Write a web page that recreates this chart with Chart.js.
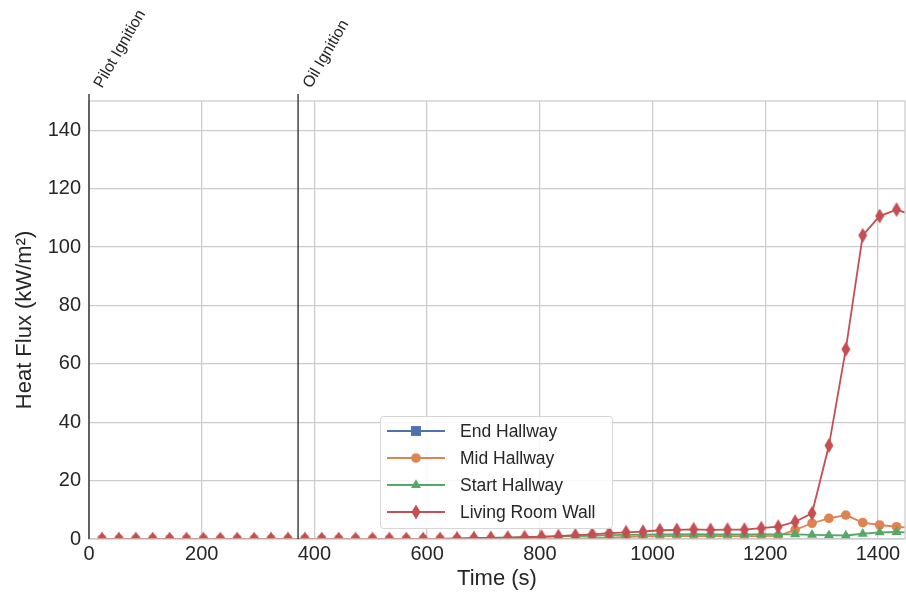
<!DOCTYPE html>
<html>
<head>
<meta charset="utf-8">
<script src="https://cdn.jsdelivr.net/npm/chart.js@4"></script>
<style>
    html, body { margin: 0; padding: 0; background: #ffffff; }
</style>
</head>
<body>
<canvas id="chartHeatFlux" width="906" height="594"></canvas>
<script>
// tempos (s) de cada leitura
const tempos = [23, 53, 83, 113, 143, 173, 203, 233, 263, 293, 323, 353, 383, 413, 443, 473, 503, 533, 563, 593,
    623, 653, 683, 713, 743, 773, 803, 833, 863, 893, 923, 953, 983, 1013, 1043, 1073, 1103, 1133, 1163, 1193,
    1223, 1253, 1283, 1313, 1343, 1373, 1403, 1433, 1448];

// End Hallway nao aparece no grafico (sem leitura)
const endHallway = [null, null, null, null, null, null, null, null, null, null, null, null, null, null, null, null, null, null, null, null,
    null, null, null, null, null, null, null, null, null, null, null, null, null, null, null, null, null, null, null, null,
    null, null, null, null, null, null, null, null, null];

const midHallway = [0, 0, 0, 0, 0, 0, 0, 0, 0, 0, 0, 0, 0, 0, 0, 0, 0, 0, 0, 0,
    0, 0, 0, 0, 0, 0, 0, 0, 0.1, 0.3, 0.5, 0.7, 0.9, 1.0, 1.1, 1.0, 1.1, 1.0, 1.0, 1.0,
    1.1, 3.1, 5.4, 7.1, 8.2, 5.6, 4.8, 4.2, 4.0];

const startHallway = [0, 0, 0, 0, 0, 0, 0, 0, 0, 0, 0, 0, 0, 0, 0, 0, 0, 0, 0, 0,
    0, 0.1, 0.3, 0.4, 0.5, 0.6, 0.7, 0.9, 1.0, 1.1, 1.3, 1.4, 1.5, 1.6, 1.6, 1.7, 1.6, 1.6, 1.6, 1.6,
    1.6, 1.6, 1.4, 1.3, 1.2, 1.8, 2.3, 2.4, 2.3];

const livingRoomWall = [0, 0, 0, 0, 0, 0, 0, 0, 0, 0, 0, 0, 0, 0, 0, 0, 0, 0, 0, 0,
    0, 0.2, 0.3, 0.4, 0.5, 0.6, 0.8, 1.0, 1.3, 1.6, 2.0, 2.3, 2.5, 3.0, 3.1, 3.3, 3.1, 3.2, 3.2, 3.7,
    4.2, 5.9, 8.8, 32, 65, 104, 110.6, 112.8, 111.8];

const nomesSeries = ['End Hallway', 'Mid Hallway', 'Start Hallway', 'Living Room Wall'];

const ticksX = [0, 200, 400, 600, 800, 1000, 1200, 1400];
const ticksY = [0, 20, 40, 60, 80, 100, 120, 140];

const eventosTempo = [0, 371];
const eventosNome = ['Pilot Ignition', 'Oil Ignition'];

const fonte = '"Liberation Sans", Arial, sans-serif';
const corTexto = '#262626';

// losango fino do matplotlib ('d')
function criarLosango(cor) {
    const c = document.createElement('canvas');
    c.width = 10;
    c.height = 16;
    const g = c.getContext('2d');
    g.fillStyle = cor;
    g.beginPath();
    g.moveTo(5, 0.5);
    g.lineTo(9.5, 8);
    g.lineTo(5, 15.5);
    g.lineTo(0.5, 8);
    g.closePath();
    g.fill();
    return c;
}

function montarPontos(valores) {
    return tempos.map((t, i) => ({ x: t, y: valores[i] }));
}

function raioPonto(r) {
    // ultimo ponto (fim da serie) nao tem marcador
    return (ctx) => ctx.dataIndex === tempos.length - 1 ? 0 : r;
}

const estilos = [
    { cor: '#4C72B0', marcador: 'rect', raio: 7 },
    { cor: '#DD8452', marcador: 'circle', raio: 4.8 },
    { cor: '#55A868', marcador: 'triangle', raio: 5.8 },
    { cor: '#C44E52', marcador: criarLosango('#C44E52'), raio: 6 }
];

const seriesValores = [endHallway, midHallway, startHallway, livingRoomWall];

const datasets = seriesValores.map((valores, i) => ({
    label: nomesSeries[i],
    data: montarPontos(valores),
    borderColor: estilos[i].cor,
    backgroundColor: estilos[i].cor,
    borderWidth: 1.8,
    pointStyle: estilos[i].marcador,
    pointRadius: raioPonto(estilos[i].raio),
    pointBorderWidth: 0,
    pointBackgroundColor: estilos[i].cor,
    tension: 0,
    clip: 0,
    order: seriesValores.length - 1 - i
}));

const pluginMarcos = {
    id: 'marcos',
    afterDatasetsDraw(chart) {
        const ctx = chart.ctx;
        const area = chart.chartArea;
        const escalaX = chart.scales.x;

        ctx.save();
        // moldura (spines)
        ctx.strokeStyle = '#cccccc';
        ctx.lineWidth = 1.25;
        ctx.strokeRect(area.left, area.top, area.right - area.left, area.bottom - area.top);

        // linhas de eventos
        eventosTempo.forEach((t, i) => {
            const px = escalaX.getPixelForValue(t);
            ctx.strokeStyle = corTexto;
            ctx.lineWidth = 1.3;
            ctx.beginPath();
            ctx.moveTo(px, area.top - 7);
            ctx.lineTo(px, area.bottom);
            ctx.stroke();

            ctx.save();
            ctx.translate(px + 13, area.top - 12);
            ctx.rotate(-Math.PI / 3);
            ctx.font = '16px ' + fonte;
            ctx.fillStyle = corTexto;
            ctx.textAlign = 'left';
            ctx.textBaseline = 'alphabetic';
            ctx.fillText(eventosNome[i], 0, 0);
            ctx.restore();
        });

        // legenda
        const lx = area.left + 291;
        const ly = area.bottom - 123;
        const largura = 232;
        const altura = 112;
        ctx.fillStyle = 'rgba(255,255,255,0.85)';
        ctx.strokeStyle = '#d6d6d6';
        ctx.lineWidth = 1;
        ctx.beginPath();
        ctx.roundRect(lx + 0.5, ly + 0.5, largura, altura, 3);
        ctx.fill();
        ctx.stroke();

        chart.data.datasets.forEach((ds, i) => {
            const y = ly + 15 + i * 27;
            ctx.strokeStyle = ds.borderColor;
            ctx.lineWidth = 1.8;
            ctx.beginPath();
            ctx.moveTo(lx + 7, y);
            ctx.lineTo(lx + 65, y);
            ctx.stroke();
            ctx.fillStyle = ds.borderColor;
            Chart.helpers.drawPoint(ctx, {
                pointStyle: ds.pointStyle,
                radius: estilos[i].raio,
                rotation: 0,
                borderWidth: 0
            }, lx + 36, y);
            ctx.fillStyle = corTexto;
            ctx.font = '17.5px ' + fonte;
            ctx.textAlign = 'left';
            ctx.textBaseline = 'middle';
            ctx.fillText(ds.label, lx + 80, y + 1);
        });
        ctx.restore();
    }
};

const ctxGrafico = document.getElementById('chartHeatFlux').getContext('2d');

new Chart(ctxGrafico, {
    type: 'line',
    data: { datasets: datasets },
    plugins: [pluginMarcos],
    options: {
        responsive: false,
        animation: false,
        devicePixelRatio: 1,
        spanGaps: false,
        layout: {
            autoPadding: false,
            padding: { left: 0, right: 1, top: 101, bottom: 0 }
        },
        plugins: {
            legend: { display: false },
            tooltip: { enabled: false }
        },
        scales: {
            x: {
                type: 'linear',
                min: 0,
                max: 1448,
                afterBuildTicks: (escala) => {
                    escala.ticks = ticksX.map(v => ({ value: v }));
                },
                afterFit: (escala) => {
                    escala.height = 55;
                    escala.paddingLeft = 0;
                    escala.paddingRight = 0;
                },
                ticks: {
                    autoSkip: false,
                    maxRotation: 0,
                    padding: 3,
                    color: corTexto,
                    font: { family: fonte, size: 20 },
                    callback: (valor) => String(valor)
                },
                grid: {
                    color: '#cccccc',
                    lineWidth: 1.25,
                    drawTicks: false
                },
                border: { display: false },
                title: {
                    display: true,
                    text: 'Time (s)',
                    color: corTexto,
                    font: { family: fonte, size: 22 },
                    padding: { top: 0, bottom: 2 }
                }
            },
            y: {
                type: 'linear',
                min: 0,
                max: 150,
                afterBuildTicks: (escala) => {
                    escala.ticks = ticksY.map(v => ({ value: v }));
                },
                afterFit: (escala) => {
                    escala.width = 89;
                    escala.paddingTop = 0;
                    escala.paddingBottom = 0;
                },
                ticks: {
                    autoSkip: false,
                    padding: 8,
                    color: corTexto,
                    font: { family: fonte, size: 20 },
                    callback: (valor) => String(valor)
                },
                grid: {
                    color: '#cccccc',
                    lineWidth: 1.25,
                    drawTicks: false
                },
                border: { display: false },
                title: {
                    display: true,
                    text: 'Heat Flux (kW/m²)',
                    color: corTexto,
                    font: { family: fonte, size: 22 },
                    padding: { top: 12, bottom: 0 }
                }
            }
        }
    }
});
</script>
</body>
</html>
